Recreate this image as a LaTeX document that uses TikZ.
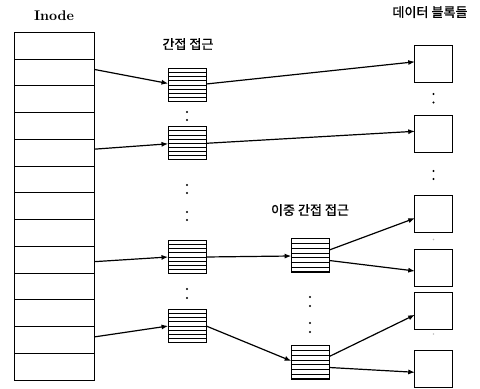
\documentclass[tikz,border=0pt]{standalone}
\usepackage{fontspec}
\newfontfamily\kr{Noto Sans CJK KR}[FakeBold=1.2]
\usetikzlibrary{arrows.meta,calc}
\tikzset{
  cell/.style={draw,line width=0.8pt,minimum width=60pt,minimum height=20.06pt,inner sep=0pt,outer sep=0pt},
  ptrblock/.style={draw,line width=0.8pt,minimum width=28.5pt,minimum height=24.8pt,inner sep=0pt,outer sep=0pt},
  datablock/.style={draw,line width=0.8pt,minimum width=28.3pt,minimum height=28pt,inner sep=0pt,outer sep=0pt},
  link/.style={line width=0.9pt,-{Latex[length=5pt,width=3.8pt]}},
  krlabel/.style={font=\kr\fontsize{9.8}{11}\selectfont,inner sep=0pt},
  dotmark/.style={fill=black,inner sep=0pt,minimum size=1.6pt,circle},
  fdot/.style={fill=black!25,inner sep=0pt,minimum size=1.2pt,circle}
}
\begin{document}
\begin{tikzpicture}[x=0.75pt,y=-0.75pt]
\useasboundingbox (0,0) rectangle (480,389);
% inode table
\foreach \k in {1,...,13} {
  \node[cell] (r\k) at (54.3,{32.3+26.75*(\k-0.5)}) {};
}
\node[font=\bfseries\fontsize{10.5}{12}\selectfont,inner sep=0pt] (inodelbl) at (54,15.5) {Inode};
% indirect blocks
\node[ptrblock] (i1) at (187.2,85) {};
\node[ptrblock] (i2) at (187.2,143.3) {};
\node[ptrblock] (i3) at (187.2,257) {};
\node[ptrblock] (i4) at (187.2,326) {};
% double indirect blocks
\node[ptrblock] (d1) at (310.3,255.5) {};
\node[ptrblock] (d2) at (310.3,362.5) {};
\foreach \n in {i1,i2,i3,i4} {
  \foreach \k in {1,...,7} {
    \draw[line width=0.6pt] ($(\n.north west)!\k/8!(\n.south west)$) -- ($(\n.north east)!\k/8!(\n.south east)$);
  }
}
\foreach \n in {d1,d2} {
  \foreach \k in {1,...,6} {
    \draw[line width=0.6pt] ($(\n.north west)!\k/7!(\n.south west)$) -- ($(\n.north east)!\k/7!(\n.south east)$);
  }
}
% data blocks
\node[datablock] (b1) at (433.8,63.8) {};
\node[datablock] (b2) at (433.8,133.8) {};
\node[datablock] (b3) at (433.8,214.2) {};
\node[datablock] (b4) at (433.8,268) {};
\node[datablock] (b5) at (433.8,310.8) {};
\node[datablock] (b6) at (433.8,369.3) {};
% labels
\node[krlabel] (lind) at (188,44) {간접 접근};
\node[krlabel] (ldata) at (430,12) {데이터 블록들};
\node[krlabel] (ldbl) at (310,210) {이중 간접 접근};
% dots
\foreach \y [count=\c] in {112,120,185,193,212,220,289,298} {
  \node[dotmark] (dv\c) at (187,\y) {};
}
\foreach \y [count=\c] in {297,306,323,332} {
  \node[dotmark] (dd\c) at (310,\y) {};
}
\foreach \y [count=\c] in {94,102.5,171,179} {
  \node[dotmark] (db\c) at (433.5,\y) {};
}
\node[fdot] (fd1) at (433.5,239.5) {};
\node[fdot] (fd2) at (433.5,334) {};
% connectors
\draw[link] ($(r2.east)+(0,-3)$) -- ($(i1.west)+(0,-1.5)$);
\draw[link] ($(r5.east)+(0,-3.5)$) -- ($(i2.west)+(0,0.5)$);
\draw[link] ($(r9.east)+(0,2)$) -- (i3.west);
\draw[link] ($(r12.east)+(0,-3)$) -- (i4.west);
\draw[link] ($(i1.east)+(0,-1)$) -- ($(b1.west)+(0,-2)$);
\draw[link] (i2.east) -- ($(b2.west)+(0,-2.5)$);
\draw[link] (i3.east) -- ($(d1.west)+(0,0.5)$);
\draw[link] (i4.east) -- ($(d2.west)+(0,-1.5)$);
\draw[link] ($(d1.east)+(0,-5.5)$) -- ($(b3.west)+(0,4)$);
\draw[link] ($(d1.east)+(0,5)$) -- ($(b4.west)+(0,3)$);
\draw[link] ($(d2.east)+(0,-6)$) -- ($(b5.west)+(0,4)$);
\draw[link] ($(d2.east)+(0,5)$) -- ($(b6.west)+(0,3)$);
\end{tikzpicture}
\end{document}
